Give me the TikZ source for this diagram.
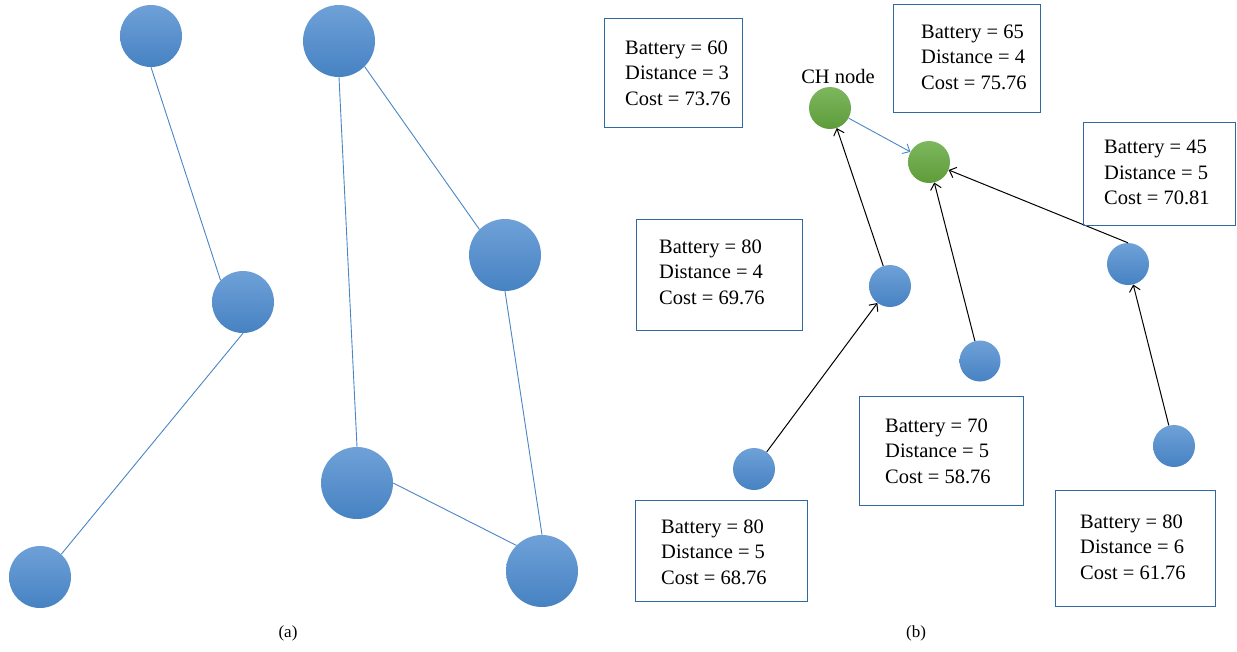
\documentclass[tikz,border=0pt]{standalone}
\usepackage{fontspec}
\setmainfont{Liberation Serif}
\usetikzlibrary{arrows.meta}
\definecolor{nodetop}{HTML}{6FA1D8}
\definecolor{nodebot}{HTML}{4682C2}
\definecolor{chtop}{HTML}{7DB75E}
\definecolor{chbot}{HTML}{5E9C3A}
\definecolor{edgeblue}{HTML}{4A86C5}
\definecolor{boxblue}{HTML}{2E6AA0}
\tikzset{
  sensor/.style={circle, inner sep=0pt, minimum size=#1, top color=nodetop, bottom color=nodebot, draw=none},
  chnode/.style={circle, inner sep=0pt, minimum size=42pt, top color=chtop, bottom color=chbot, draw=none},
  link/.style={draw=edgeblue, line width=0.9pt},
  route/.style={draw=black, line width=1pt, -{Straight Barb[length=6pt,width=11pt]}},
  hop/.style={draw=edgeblue, line width=0.9pt, -{Straight Barb[length=6pt,width=11pt]}},
  infobox/.style={draw=boxblue, line width=0.9pt, rectangle, inner sep=0pt},
  info/.style={anchor=west, align=left, inner sep=0pt, font=\fontsize{20.5}{25.5}\selectfont},
  caption/.style={font=\fontsize{17}{20}\selectfont, inner sep=0pt}
}
\begin{document}
\begin{tikzpicture}[x=1pt,y=-1pt]
\useasboundingbox (0,0) rectangle (1237,651);

% (a) topology before clustering
\node[sensor=62pt] (a1) at (151,36) {};
\node[sensor=62pt] (a2) at (243,302) {};
\node[sensor=62pt] (a3) at (40,577) {};
\node[sensor=72pt] (a4) at (339,41) {};
\node[sensor=72pt] (a5) at (505,255) {};
\node[sensor=72pt] (a6) at (357,483) {};
\node[sensor=72pt] (a7) at (542,571) {};
\draw[link] (a1.south) -- (a2.136);
\draw[link] (a2.south) -- (a3.47);
\draw[link] (a4.south) -- (a6.north);
\draw[link] (a4.-45) -- (a5.135);
\draw[link] (a5.south) -- (a7.north);
\draw[link] (a6.east) -- (a7.135);
\node[caption] (capa) at (288,633) {(a)};

% (b) cluster-head routing
\node[chnode] (g1) at (830,108) {};
\node[chnode] (g2) at (929,162) {};
\node[font=\fontsize{20.5}{22}\selectfont, inner sep=0pt] (chlabel) at (838,76) {CH node};
\node[sensor=42pt] (b1) at (890,286) {};
\node[sensor=41pt] (b2) at (980,361) {};
\node[sensor=42pt] (b3) at (1128,264) {};
\node[sensor=42pt] (b4) at (754,469) {};
\node[sensor=42pt] (b5) at (1174,446) {};
\draw[hop] (g1) -- (g2);
\draw[route] (b1) -- (g1);
\draw[route] (b4) -- (b1);
\draw[route] (b2) -- (g2);
\draw[route] (b3.north) -- (g2);
\draw[route] (b5) -- (b3);

% parameter boxes
\node[infobox, minimum width=138pt, minimum height=109pt] (box1) at (673,72.5) {};
\node[info] (t1) at (625,73) {Battery = 60\\Distance = 3\\Cost = 73.76};
\node[infobox, minimum width=147pt, minimum height=108pt] (box2) at (966.5,58) {};
\node[info] (t2) at (921,57) {Battery = 65\\Distance = 4\\Cost = 75.76};
\node[infobox, minimum width=152pt, minimum height=103pt] (box3) at (1159,173.5) {};
\node[info] (t3) at (1104,172.5) {Battery = 45\\Distance = 5\\Cost = 70.81};
\node[infobox, minimum width=166pt, minimum height=111pt] (box4) at (719,274.5) {};
\node[info] (t4) at (659,272) {Battery = 80\\Distance = 4\\Cost = 69.76};
\node[infobox, minimum width=164pt, minimum height=109pt] (box5) at (941,450.5) {};
\node[info] (t5) at (885,451) {Battery = 70\\Distance = 5\\Cost = 58.76};
\node[infobox, minimum width=172pt, minimum height=101pt] (box6) at (721,550.5) {};
\node[info] (t6) at (661,552) {Battery = 80\\Distance = 5\\Cost = 68.76};
\node[infobox, minimum width=160pt, minimum height=116pt] (box7) at (1135,548) {};
\node[info] (t7) at (1080,547) {Battery = 80\\Distance = 6\\Cost = 61.76};

\node[caption] (capb) at (916,633) {(b)};
\end{tikzpicture}
\end{document}
